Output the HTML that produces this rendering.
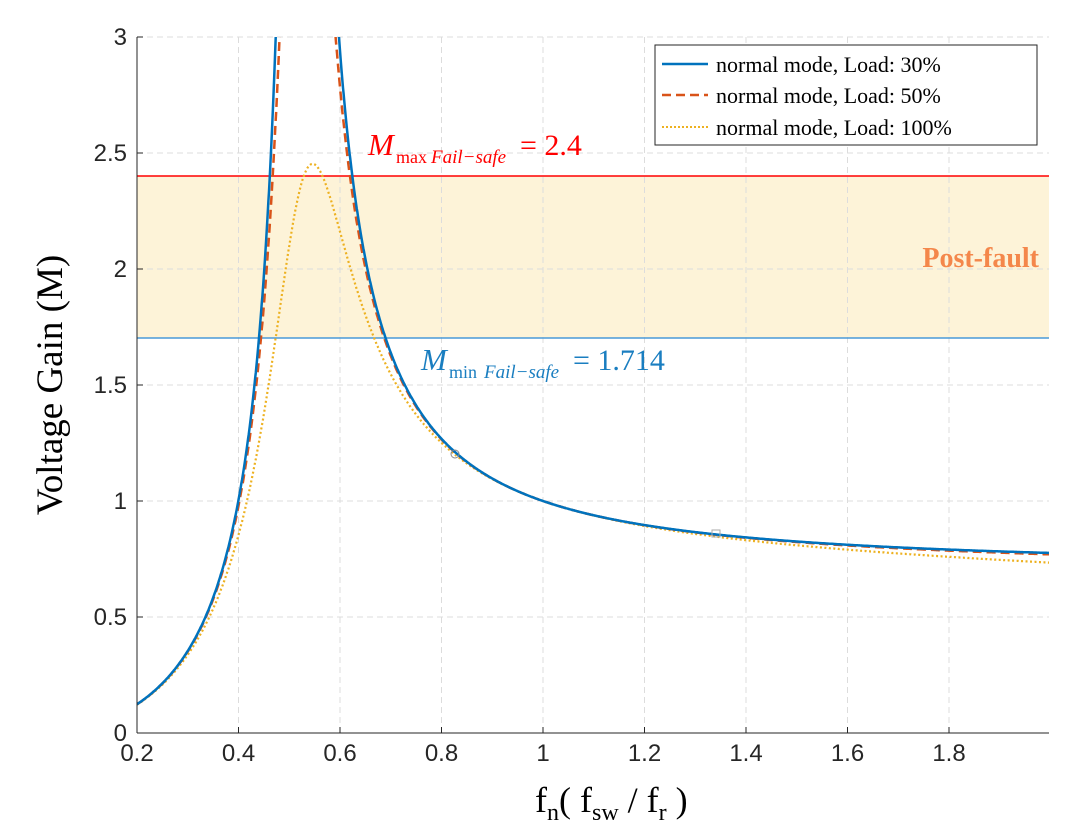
<!DOCTYPE html>
<html><head><meta charset="utf-8"><style>
body{margin:0;background:#fff;}
svg{display:block;font-family:"Liberation Sans",sans-serif;}
.t{font-size:24px;fill:#262626;}
.s{font-family:"Liberation Serif",serif;}
</style></head><body>
<svg id="c" width="1073" height="826" viewBox="0 0 1073 826">
<rect x="0" y="0" width="1073" height="826" fill="#fff"/>
<rect x="137" y="176" width="912" height="162" fill="#fdf3d8"/>
<g id="grid" stroke="#dcdcdc" stroke-dasharray="6,4" stroke-width="1"></g>
<line x1="137" y1="176" x2="1049" y2="176" stroke="#f00" stroke-width="1.5"/>
<line x1="137" y1="338" x2="1049" y2="338" stroke="#4a9ad8" stroke-width="1.5"/>
<g id="curves" fill="none"></g>
<circle cx="455" cy="454" r="4" fill="none" stroke="#888"/>
<rect x="712" y="530" width="8" height="7" fill="none" stroke="#aaa"/>
<line x1="137" y1="37" x2="137" y2="733" stroke="#262626"/>
<line x1="137" y1="733" x2="1049" y2="733" stroke="#262626"/>
<g id="ticks"></g>
<text class="s" x="368" y="155" font-size="31" fill="#f00" font-style="italic">M</text>
<text class="s" x="396" y="163" font-size="18" fill="#f00">max</text>
<text class="s" x="431" y="163" font-size="19" fill="#f00" font-style="italic">Fail−safe</text>
<text class="s" x="520" y="155" font-size="30" fill="#f00">= 2.4</text>
<text class="s" x="421" y="370" font-size="31" fill="#1a7ec0" font-style="italic">M</text>
<text class="s" x="449" y="378" font-size="18" fill="#1a7ec0">min</text>
<text class="s" x="484" y="378" font-size="19" fill="#1a7ec0" font-style="italic">Fail−safe</text>
<text class="s" x="573" y="370" font-size="30" fill="#1a7ec0">= 1.714</text>
<text class="s" x="1039" y="267" font-size="28" font-weight="bold" fill="#f4874b" text-anchor="end">Post-fault</text>
<rect x="655" y="45" width="382" height="100" fill="#fff" stroke="#262626" stroke-width="1"/>
<line x1="662" y1="64" x2="708" y2="64" stroke="#0072bd" stroke-width="2.5"/>
<line x1="662" y1="95" x2="708" y2="95" stroke="#d95319" stroke-width="2.5" stroke-dasharray="9,5"/>
<line x1="662" y1="127" x2="708" y2="127" stroke="#edb120" stroke-width="2" stroke-dasharray="2,2"/>
<text class="s" x="716" y="72" font-size="22" fill="#000">normal mode, Load: 30%</text>
<text class="s" x="716" y="103" font-size="22" fill="#000">normal mode, Load: 50%</text>
<text class="s" x="716" y="135" font-size="22" fill="#000">normal mode, Load: 100%</text>
<text class="s" x="62" y="385" font-size="37" fill="#000" text-anchor="middle" transform="rotate(-90 62 385)">Voltage Gain (M)</text>
<text class="s" x="535" y="812" font-size="36" fill="#000">f<tspan font-size="24" dy="8">n</tspan><tspan dy="-8">( f</tspan><tspan font-size="24" dy="8">sw</tspan><tspan dy="-8"> / f</tspan><tspan font-size="24" dy="8">r</tspan><tspan dy="-8"> )</tspan></text>
</svg>
<script>
var ns="http://www.w3.org/2000/svg";
function X(v){return 137+(v-0.2)*507.5;}
function Y(v){return 733-v*232;}
function el(p,t,a){var e=document.createElementNS(ns,t);for(var k in a)e.setAttribute(k,a[k]);p.appendChild(e);return e;}
var g=document.getElementById('grid'),tk=document.getElementById('ticks');
for(var i=0;i<9;i++){var v=0.2+0.2*i,x=X(v);if(i>0)el(g,'line',{x1:x,y1:37,x2:x,y2:733});
 el(tk,'line',{x1:x,y1:733,x2:x,y2:727,stroke:'#262626'});
 var t=el(tk,'text',{x:x,y:761,'text-anchor':'middle','class':'t'});t.textContent=(Math.round(v*10)/10).toString();}
for(var j=0;j<=6;j++){var v=j*0.5,y=Y(v);if(j>0)el(g,'line',{x1:137,y1:y,x2:1049,y2:y});
 el(tk,'line',{x1:137,y1:y,x2:143,y2:y,stroke:'#262626'});
 var t=el(tk,'text',{x:127,y:y+8,'text-anchor':'end','class':'t'});t.textContent=(v%1==0?v.toFixed(0):v.toString());}
var k=2.65;
function M(f,Q){var a=1+(1-1/(f*f))/k,b=Q*(f-1/f);return 1/Math.sqrt(a*a+b*b);}
var cs=document.getElementById('curves');
var S=[[0.305,'#edb120','2.2','2,2.5'],[0.135,'#d95319','2.5','9,5'],[0.08,'#0072bd','2.5','']];
S.forEach(function(s){var d='',on=false;
 for(var f=0.2;f<=2.0;f+=0.001){var m=M(f,s[0]);var y=Y(Math.min(m,3.2));
  if(m>3.2){on=false;continue;}
  d+=(on?'L':'M')+X(f).toFixed(1)+','+y.toFixed(1);on=true;}
 var a={d:d,stroke:s[1],'stroke-width':s[2]};if(s[3])a['stroke-dasharray']=s[3];
 el(cs,'path',a);});
var cp=el(document.getElementById('c'),'clipPath',{id:'cl'});el(cp,'rect',{x:137,y:37,width:912,height:696});
cs.setAttribute('clip-path','url(#cl)');
</script>
</body></html>
